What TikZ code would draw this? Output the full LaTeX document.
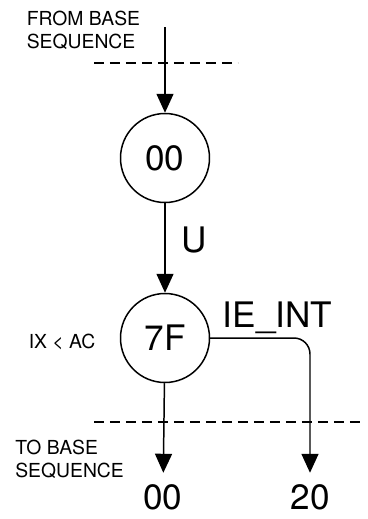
\documentclass[tikz,border=0pt]{standalone}
\usepackage{fontspec}
\setmainfont{TeX Gyre Heros}
\usetikzlibrary{arrows.meta,positioning}

\tikzset{
  state/.style={circle,draw,line width=0.85pt,minimum size=1.78cm,inner sep=0pt,font=\fontsize{20}{24}\selectfont},
  big/.style={inner sep=0pt,font=\fontsize{20}{24}\selectfont},
  small/.style={inner sep=0pt,align=left,font=\fontsize{11}{13}\selectfont},
  flow/.style={line width=0.85pt,-{Triangle[length=0.38cm,width=0.34cm]}},
  cut/.style={line width=0.85pt,dash pattern=on 0.2cm off 0.12cm}
}

\begin{document}
\begin{tikzpicture}[scale=1.0]
\useasboundingbox (0,0) rectangle (7.36,-10.38);
% states
\node[state] (s00) at (3.3,-3.16) {00};
\node[state] (s7F) at (3.3,-6.76) {7F};
\coordinate (src) at (3.3,-0.54);
\node[big,outer sep=0.24cm] (o00) at (3.26,-9.95) {00};
\node[big,outer sep=0.24cm] (o20) at (6.2,-9.95) {20};
% labels
\node[small,anchor=west] (from) at (0.53,-0.6) {FROM BASE\\SEQUENCE};
\node[small,anchor=west] (to) at (0.3,-9.18) {TO BASE\\SEQUENCE};
\node[small] (cond) at (1.24,-6.83) {IX < AC};
\node[big] (u) at (3.89,-4.8) {U};
\node[big,anchor=base] (ie) at (5.55,-6.54) {IE\_INT};
% dashed boundaries
\draw[cut] (1.88,-1.26) -- (4.76,-1.26);
\draw[cut] (1.88,-8.44) -- (7.3,-8.44);
% transitions
\draw[flow] (src) -- (s00);
\draw[flow] (s00) -- (s7F);
\draw[flow] (s7F) -- (o00);
\draw[flow,rounded corners=0.32cm] (s7F.east) -| (o20);
\end{tikzpicture}
\end{document}
